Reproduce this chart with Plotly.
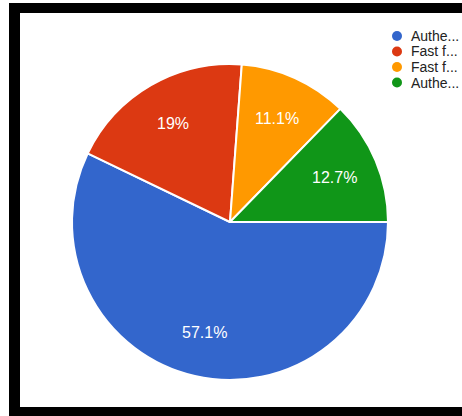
import math
import plotly.graph_objects as go

# Survey answers (counts) and their legend labels
labels = ["Authe...", "Fast f...", "Fast f... ", "Authe... "]
counts = [36, 12, 7, 8]
colors = ["#3366cc", "#dc3912", "#ff9900", "#109618"]

W, H = 462, 416
cx, cy, r = 230, 222, 158  # pie centre and radius in pixels
start_deg = 90             # first slice starts at 3 o'clock, clockwise

fig = go.Figure()
fig.add_trace(go.Pie(
    labels=labels,
    values=counts,
    sort=False,
    direction="clockwise",
    rotation=start_deg,
    marker=dict(colors=colors, line=dict(color="white", width=2)),
    textinfo="none",
    showlegend=False,
    hoverinfo="label+percent",
    domain=dict(x=[(cx - r) / W, (cx + r) / W],
                y=[1 - (cy + r) / H, 1 - (cy - r) / H]),
))

annotations = []
shapes = []

# Percentage labels at each slice's mid-angle
total = sum(counts)
acc = 0
for v in counts:
    frac = v / total
    mid = math.radians(start_deg + 360 * (acc + frac / 2))
    acc += frac
    tr = 0.72 * r
    px = cx + tr * math.sin(mid)
    py = cy - tr * math.cos(mid)
    pct = f"{frac * 100:.1f}".rstrip("0").rstrip(".") + "%"
    annotations.append(dict(x=px / W, y=1 - py / H, xref="paper", yref="paper",
                            text=pct, showarrow=False,
                            xanchor="center", yanchor="middle",
                            font=dict(size=16, color="white",
                                      family="Liberation Sans, Arial")))

# Legend: coloured dots with truncated labels at the top right
lx, ly, step = 397, 36, 15.5
for i, (lab, col) in enumerate(zip(labels, colors)):
    y = 1 - (ly + i * step) / H
    shapes.append(dict(type="circle", xref="paper", yref="paper",
                       xsizemode="pixel", ysizemode="pixel",
                       xanchor=lx / W, yanchor=y,
                       x0=-5, x1=5, y0=-5, y1=5,
                       fillcolor=col, line=dict(width=0)))
    annotations.append(dict(x=(lx + 12) / W, y=y, xref="paper", yref="paper",
                            text=lab.strip(), showarrow=False,
                            xanchor="left", yanchor="middle",
                            font=dict(size=14, color="#222222",
                                      family="Liberation Sans, Arial")))

# Black frame on the top, left and bottom edges
shapes += [
    dict(type="rect", xref="paper", yref="paper", x0=9 / W, x1=1,
         y0=1 - 13 / H, y1=1 - 3 / H, fillcolor="black", line=dict(width=0)),
    dict(type="rect", xref="paper", yref="paper", x0=9 / W, x1=20 / W,
         y0=0, y1=1 - 3 / H, fillcolor="black", line=dict(width=0)),
    dict(type="rect", xref="paper", yref="paper", x0=9 / W, x1=1,
         y0=0, y1=1 - 407 / H, fillcolor="black", line=dict(width=0)),
]

fig.update_layout(
    width=W, height=H,
    margin=dict(l=0, r=0, t=0, b=0),
    paper_bgcolor="white",
    plot_bgcolor="white",
    shapes=shapes,
    annotations=annotations,
)

fig.write_html("out.html", config={"displayModeBar": False})
